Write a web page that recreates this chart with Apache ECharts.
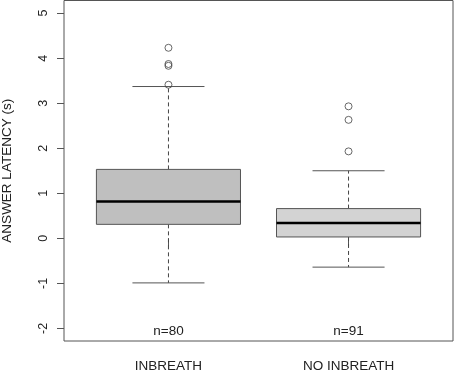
<!DOCTYPE html>
<html>
<head>
<meta charset="utf-8">
<script src="https://cdn.jsdelivr.net/npm/echarts@6/dist/echarts.min.js"></script>
<style>
  html, body { margin: 0; padding: 0; background: #fff; }
  #chart { width: 454px; height: 375px; }
</style>
</head>
<body>
<div id="chart"></div>
<script>
// groups
var groups = ['INBREATH', 'NO INBREATH'];
var counts = [80, 91];
// [lower whisker, Q1, median, Q3, upper whisker]
var boxInbreath = [-0.99, 0.31, 0.82, 1.53, 3.37];
var boxNoInbreath = [-0.64, 0.03, 0.34, 0.66, 1.50];
var outInbreath = [4.23, 3.87, 3.83, 3.41];
var outNoInbreath = [2.93, 2.63, 1.93];
var boxFills = ['#bfbfbf', '#d3d3d3'];
var yTicks = [-2, -1, 0, 1, 2, 3, 4, 5];

var boxData = [
    [1].concat(boxInbreath),
    [2].concat(boxNoInbreath)
];
var outlierData = [];
outInbreath.forEach(function (v) { outlierData.push([1, v]); });
outNoInbreath.forEach(function (v) { outlierData.push([2, v]); });

var edge = '#555555';
var font = 'Liberation Sans, Arial, sans-serif';

function renderBox(params, api) {
    var x = api.value(0);
    var lo = api.value(1), q1 = api.value(2), md = api.value(3), q3 = api.value(4), hi = api.value(5);
    var halfBox = 0.4, halfCap = 0.2;
    var pLo = api.coord([x, lo]), pQ1 = api.coord([x, q1]), pMd = api.coord([x, md]);
    var pQ3 = api.coord([x, q3]), pHi = api.coord([x, hi]);
    var left = api.coord([x - halfBox, md])[0], right = api.coord([x + halfBox, md])[0];
    var capL = api.coord([x - halfCap, md])[0], capR = api.coord([x + halfCap, md])[0];
    var nPos = api.coord([x, -2.06]);
    var dashed = { stroke: '#444', lineWidth: 1, lineDash: [4, 3] };
    var solid = { stroke: edge, lineWidth: 1 };
    return {
        type: 'group',
        children: [
            { type: 'line', shape: { x1: pQ3[0], y1: pQ3[1], x2: pHi[0], y2: pHi[1] }, style: dashed },
            { type: 'line', shape: { x1: pQ1[0], y1: pQ1[1], x2: pLo[0], y2: pLo[1] }, style: dashed },
            { type: 'line', shape: { x1: capL, y1: pHi[1], x2: capR, y2: pHi[1] }, style: solid },
            { type: 'line', shape: { x1: capL, y1: pLo[1], x2: capR, y2: pLo[1] }, style: solid },
            {
                type: 'rect',
                shape: { x: left, y: pQ3[1], width: right - left, height: pQ1[1] - pQ3[1] },
                style: { fill: boxFills[params.dataIndex], stroke: edge, lineWidth: 1 }
            },
            { type: 'line', shape: { x1: left, y1: pMd[1], x2: right, y2: pMd[1] }, style: { stroke: '#000', lineWidth: 2.5 } },
            {
                type: 'text',
                x: nPos[0], y: nPos[1],
                style: {
                    text: 'n=' + counts[params.dataIndex],
                    fill: '#222', font: '13.5px ' + font,
                    align: 'center', verticalAlign: 'middle'
                }
            }
        ]
    };
}

var myChart = echarts.init(document.getElementById('chart'));
var option = {
    backgroundColor: '#fff',
    animation: false,
    grid: {
        left: 64, right: 1, top: 0.5, bottom: 34,
        outerBoundsMode: 'none',
        containLabel: false,
        show: true, borderColor: edge, borderWidth: 1
    },
    xAxis: {
        type: 'value',
        min: 0.42, max: 2.58,
        axisLine: { show: false },
        splitLine: { show: false },
        axisTick: { show: true, length: 8, lineStyle: { color: edge }, customValues: [1, 2] },
        axisLabel: {
            customValues: [1, 2],
            margin: 18,
            color: '#222', fontSize: 13.5, fontFamily: font,
            formatter: function (v) { return groups[Math.round(v) - 1]; }
        }
    },
    yAxis: {
        type: 'value',
        min: -2.28, max: 5.28,
        name: 'ANSWER LATENCY (s)',
        nameLocation: 'middle',
        nameGap: 50,
        nameTextStyle: { color: '#222', fontSize: 13.5, fontFamily: font },
        axisLine: { show: false },
        splitLine: { show: false },
        axisTick: { show: true, length: 7, lineStyle: { color: edge }, customValues: yTicks },
        axisLabel: {
            customValues: yTicks,
            rotate: 90,
            margin: 14,
            color: '#222', fontSize: 12.5, fontFamily: font
        }
    },
    series: [
        {
            type: 'custom',
            renderItem: renderBox,
            encode: { x: 0, y: [1, 2, 3, 4, 5] },
            data: boxData,
            z: 2
        },
        {
            type: 'scatter',
            symbol: 'circle',
            symbolSize: 7,
            itemStyle: { color: 'rgba(255,255,255,0)', borderColor: '#444', borderWidth: 1 },
            data: outlierData,
            z: 3
        }
    ]
};
myChart.setOption(option);
</script>
</body>
</html>
